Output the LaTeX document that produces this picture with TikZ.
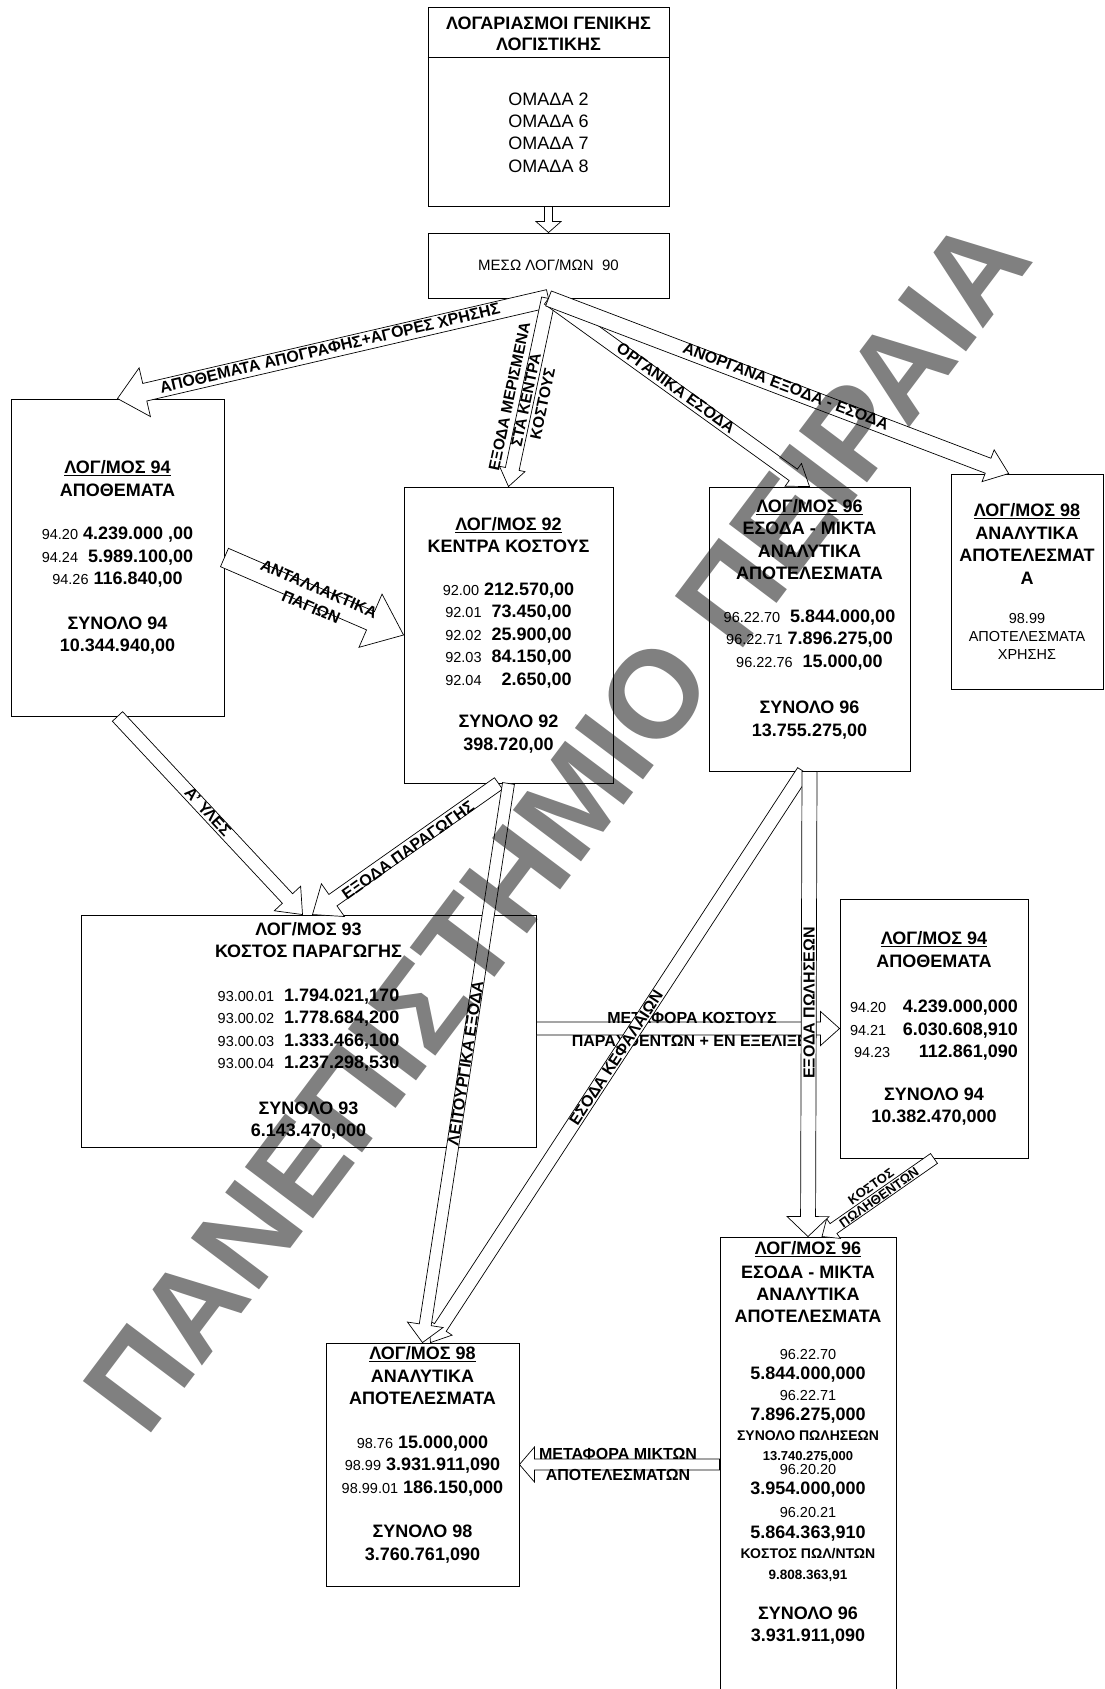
\documentclass[tikz,border=0pt]{standalone}
\usepackage{fontspec}
\setmainfont{Liberation Sans}
\usetikzlibrary{calc}
\definecolor{wmgray}{RGB}{128,128,128}
\newcommand{\acc}[1]{{\mdseries\fontsize{14.5}{17}\selectfont #1}}
\tikzset{
  shaftw/.store in=\shaftw, headw/.store in=\headw, headl/.store in=\headl,
  shaftw=7pt, headw=18pt, headl=20pt,
  box/.style={draw, line width=.9pt, fill=white, inner sep=0pt, align=center,
              font=\bfseries\fontsize{18}{22.5}\selectfont},
  barrow/.style={draw, line width=.7pt, fill=white, to path={
      let \p1=(\tikztostart), \p2=(\tikztotarget),
          \n1={atan2(\y2-\y1,\x2-\x1)}, \n2={\n1+90}, \n3={\n1-90}, \n4={\n1+180} in
      ($(\p1)+(\n2:\shaftw)$) -- ($(\p2)+(\n4:\headl)+(\n2:\shaftw)$)
      -- ($(\p2)+(\n4:\headl)+(\n2:\headw)$) -- (\p2)
      -- ($(\p2)+(\n4:\headl)+(\n3:\headw)$) -- ($(\p2)+(\n4:\headl)+(\n3:\shaftw)$)
      -- ($(\p1)+(\n3:\shaftw)$) -- cycle}},
  lbl/.style={font=\bfseries\fontsize{16}{18}\selectfont, inner sep=0pt, align=center},
  wmark/.style={font=\bfseries\fontsize{124}{124}\selectfont, text=wmgray, inner sep=0pt}
}

\begin{document}
\begin{tikzpicture}[x=1pt,y=-1pt]
  \path[use as bounding box, fill=white] (0,0) rectangle (1104,1689);
  % general ledger and account 90
  \node[box, minimum width=241pt, minimum height=199pt] (gl) at (548.5,106.5) {};
  \draw[line width=.9pt] ($(gl.north west)+(0,51)$) -- ($(gl.north east)+(0,51)$);
  \node[font=\bfseries\fontsize{18}{21}\selectfont, align=center] (gltitle) at (548.5,33.5) {ΛΟΓΑΡΙΑΣΜΟΙ ΓΕΝΙΚΗΣ\\ΛΟΓΙΣΤΙΚΗΣ};
  \node[font=\fontsize{18}{22.4}\selectfont, align=center] (glbody) at (548.5,132.5) {ΟΜΑΔΑ 2\\ΟΜΑΔΑ 6\\ΟΜΑΔΑ 7\\ΟΜΑΔΑ 8};
  \node[box, font=\fontsize{15}{17}\selectfont, minimum width=241pt, minimum height=65pt] (mesw) at (548.5,265.5) {ΜΕΣΩ ΛΟΓ/ΜΩΝ~~90};

  % accounts
  \node[box, minimum width=213pt, minimum height=317pt] (b94l) at (117.5,557.5) {\underline{ΛΟΓ/ΜΟΣ 94}\\ΑΠΟΘΕΜΑΤΑ\\[21pt]
    \acc{94.20} 4.239.000 ,00\\ \acc{94.24}~~5.989.100,00\\ \acc{94.26} 116.840,00\\[22pt]
    ΣΥΝΟΛΟ 94\\10.344.940,00};
  \node[box, minimum width=209pt, minimum height=296pt] (b92) at (508.5,635) {\underline{ΛΟΓ/ΜΟΣ 92}\\ΚΕΝΤΡΑ ΚΟΣΤΟΥΣ\\[20pt]
    \acc{92.00} 212.570,00\\ \acc{92.01}~~73.450,00\\ \acc{92.02}~~25.900,00\\ \acc{92.03}~~84.150,00\\ \acc{92.04}~~~~2.650,00\\[20pt]
    ΣΥΝΟΛΟ 92\\398.720,00};
  \node[box, minimum width=201pt, minimum height=284pt] (b96t) at (809.5,629) {\underline{ΛΟΓ/ΜΟΣ 96}\\ΕΣΟΔΑ - ΜΙΚΤΑ\\ΑΝΑΛΥΤΙΚΑ\\ΑΠΟΤΕΛΕΣΜΑΤΑ\\[20pt]
    \acc{96.22.70}~~5.844.000,00\\ \acc{96.22.71} 7.896.275,00\\ \acc{96.22.76}~~15.000,00\\[24pt]
    ΣΥΝΟΛΟ 96\\13.755.275,00\\ \mbox{}};
  \node[box, minimum width=152pt, minimum height=215pt] (b98t) at (1027,581.5) {\underline{ΛΟΓ/ΜΟΣ 98}\\ΑΝΑΛΥΤΙΚΑ\\ΑΠΟΤΕΛΕΣΜΑΤ\\Α\\[17pt]
    \acc{98.99}\\[-4.5pt]\acc{ΑΠΟΤΕΛΕΣΜΑΤΑ}\\[-4.5pt]\acc{ΧΡΗΣΗΣ}};
  \node[box, minimum width=455pt, minimum height=232pt] (b93) at (308.5,1031) {ΛΟΓ/ΜΟΣ 93\\ΚΟΣΤΟΣ ΠΑΡΑΓΩΓΗΣ\\[21pt]
    \acc{93.00.01}~~1.794.021,170\\ \acc{93.00.02}~~1.778.684,200\\ \acc{93.00.03}~~1.333.466,100\\ \acc{93.00.04}~~1.237.298,530\\[23pt]
    ΣΥΝΟΛΟ 93\\6.143.470,000};
  \node[box, minimum width=188pt, minimum height=259pt] (b94r) at (934,1028.5) {\underline{ΛΟΓ/ΜΟΣ 94}\\ΑΠΟΘΕΜΑΤΑ\\[23pt]
    \makebox[168pt]{\acc{94.20}\hfill 4.239.000,000}\\ \makebox[168pt]{\acc{94.21}\hfill 6.030.608,910}\\ \makebox[168pt]{\hspace{4pt}\acc{94.23}\hfill 112.861,090}\\[20pt]
    ΣΥΝΟΛΟ 94\\10.382.470,000};
  \node[box, minimum width=193pt, minimum height=243pt] (b98b) at (422.5,1464.5) {\underline{ΛΟΓ/ΜΟΣ 98}\\ΑΝΑΛΥΤΙΚΑ\\ΑΠΟΤΕΛΕΣΜΑΤΑ\\[21pt]
    \acc{98.76} 15.000,000\\ \acc{98.99} 3.931.911,090\\ \acc{98.99.01} 186.150,000\\[22pt]
    ΣΥΝΟΛΟ 98\\3.760.761,090\\ \mbox{}};
  \node[box, font=\bfseries\fontsize{18}{22}\selectfont, minimum width=176pt, minimum height=463pt] (b96b) at (808,1468.5) {\underline{ΛΟΓ/ΜΟΣ 96}\\[2pt]ΕΣΟΔΑ - ΜΙΚΤΑ\\ΑΝΑΛΥΤΙΚΑ\\ΑΠΟΤΕΛΕΣΜΑΤΑ\\[15pt]
    \acc{96.22.70}\\[-2pt]5.844.000,000\\[-1pt]\acc{96.22.71}\\[-2pt]7.896.275,000\\[-2pt]
    {\fontsize{14}{22}\selectfont ΣΥΝΟΛΟ ΠΩΛΗΣΕΩΝ}\\[-2pt]{\fontsize{13}{22}\selectfont 13.740.275,000}\\[-8pt]
    \acc{96.20.20}\\[-2pt]3.954.000,000\\[1pt]\acc{96.20.21}\\[-1pt]5.864.363,910\\[-2pt]
    {\fontsize{14}{22}\selectfont ΚΟΣΤΟΣ ΠΩΛ/ΝΤΩΝ}\\[-1pt]{\fontsize{13.5}{22}\selectfont 9.808.363,91}\\[18pt]
    ΣΥΝΟΛΟ 96\\3.931.911,090\\[32pt]\mbox{}};

  % flows out of 90
  \draw[barrow, shaftw=4pt, headw=12.5pt, headl=11pt] (gl.south) to (mesw.north);
  \draw[barrow, shaftw=9pt, headw=25pt, headl=28pt] (mesw.south) to (b94l.north);
  \node[lbl, rotate=13.2] (lapo) at (330,348) {ΑΠΟΘΕΜΑΤΑ ΑΠΟΓΡΑΦΗΣ+ΑΓΟΡΕΣ ΧΡΗΣΗΣ};
  \draw[barrow, shaftw=7pt, headw=13pt, headl=18pt] (mesw.south) to (b92.north);
  \node[lbl, font=\bfseries\fontsize{15.5}{17}\selectfont, rotate=78] (lmer) at (526,400) {ΕΞΟΔΑ ΜΕΡΙΣΜΕΝΑ\\ΣΤΑ ΚΕΝΤΡΑ\\ΚΟΣΤΟΥΣ};
  \draw[barrow, shaftw=7pt, headw=14pt, headl=20pt] (mesw.south) to (b96t.north);
  \node[lbl, rotate=-35.9] (lorg) at (676,388) {ΟΡΓΑΝΙΚΑ ΕΣΟΔΑ};
  \coordinate (in98) at ($(b98t.north west)!.38!(b98t.north east)$);
  \draw[barrow, shaftw=8pt, headw=17pt, headl=22pt] (mesw.south) to (in98);
  \node[lbl, rotate=-20.9] (lanorg) at (786,386) {ΑΝΟΡΓΑΝΑ ΕΞΟΔΑ - ΕΣΟΔΑ};

  % between accounts
  \draw[barrow, shaftw=10pt, headw=29pt, headl=36pt] (b94l.east) to (b92.west);
  \node[lbl, font=\bfseries\fontsize{16}{20}\selectfont, rotate=-23.3] (lant) at (315,598) {ΑΝΤΑΛΛΑΚΤΙΚΑ\\ΠΑΓΙΩΝ};
  \coordinate (in93a) at ($(b93.north)+(-6,0)$);
  \coordinate (in93b) at ($(b93.north)+(4,0)$);
  \draw[barrow, shaftw=7pt, headw=18pt, headl=22pt] (b94l.south) to (in93a);
  \node[lbl, rotate=-47.1] (lyles) at (208,812) {Α' ΥΛΕΣ};
  \coordinate (out92) at ($(b92.south)+(-10,0)$);
  \draw[barrow, shaftw=7pt, headw=20pt, headl=25pt] (out92) to (in93b);
  \node[lbl, rotate=35.4] (lpar) at (408,850) {ΕΞΟΔΑ ΠΑΡΑΓΩΓΗΣ};
  \draw[barrow, shaftw=6.5pt, headw=17pt, headl=19pt] (b93.east |- b94r.west) to (b94r.west);
  \node[lbl, font=\bfseries\fontsize{16}{23}\selectfont] (lmet) at (692,1029.5) {ΜΕΤΑΦΟΡΑ ΚΟΣΤΟΥΣ\\ΠΑΡΑΧΘΕΝΤΩΝ + ΕΝ ΕΞΕΛΙΞΕΙ};
  \coordinate (out96a) at ($(b96t.south)+(-6,0)$);
  \coordinate (in98a) at ($(b98b.north)+(8,0)$);
  \draw[barrow, shaftw=7pt, headw=14pt, headl=18pt] (out96a) to (in98a);
  \node[lbl, rotate=56.9] (lkef) at (616,1058) {ΕΣΟΔΑ ΚΕΦΑΛΑΙΩΝ};
  \draw[barrow, shaftw=6pt, headw=18pt, headl=18pt] (b92.south) to (b98b.north);
  \node[lbl, rotate=81.3] (lleit) at (465.5,1063) {ΛΕΙΤΟΥΡΓΙΚΑ ΕΞΟΔΑ};
  \coordinate (in96b) at ($(b96b.north)+(14,0)$);
  \draw[barrow, shaftw=6pt, headw=12pt, headl=14pt] (b94r.south) to (in96b);
  \node[lbl, font=\bfseries\fontsize{13}{14}\selectfont, rotate=35.2] (lpol) at (875,1192) {ΚΟΣΤΟΣ\\ΠΩΛΗΘΕΝΤΩΝ};
  \draw[barrow, shaftw=7.5pt, headw=21pt, headl=20pt] (b96t.south) to (b96b.north);
  \node[lbl, rotate=90] (lpolis) at (809,1003) {ΕΞΟΔΑ ΠΩΛΗΣΕΩΝ};
  \coordinate (out96b) at ($(b96b.north west)+(0,228)$);
  \draw[barrow, shaftw=5.5pt, headw=17.5pt, headl=15pt] (out96b) to (b98b.east);
  \node[lbl, font=\bfseries\fontsize{16}{21}\selectfont] (lmik) at (618,1464.5) {ΜΕΤΑΦΟΡΑ ΜΙΚΤΩΝ\\ΑΠΟΤΕΛΕΣΜΑΤΩΝ};

  % watermark
  \begin{scope}[blend mode=multiply]
    \node[wmark, rotate=53] (wm) at (557,824) {ΠΑΝΕΠΙΣΤΗΜΙΟ ΠΕΙΡΑΙΑ};
  \end{scope}
\end{tikzpicture}
\end{document}
